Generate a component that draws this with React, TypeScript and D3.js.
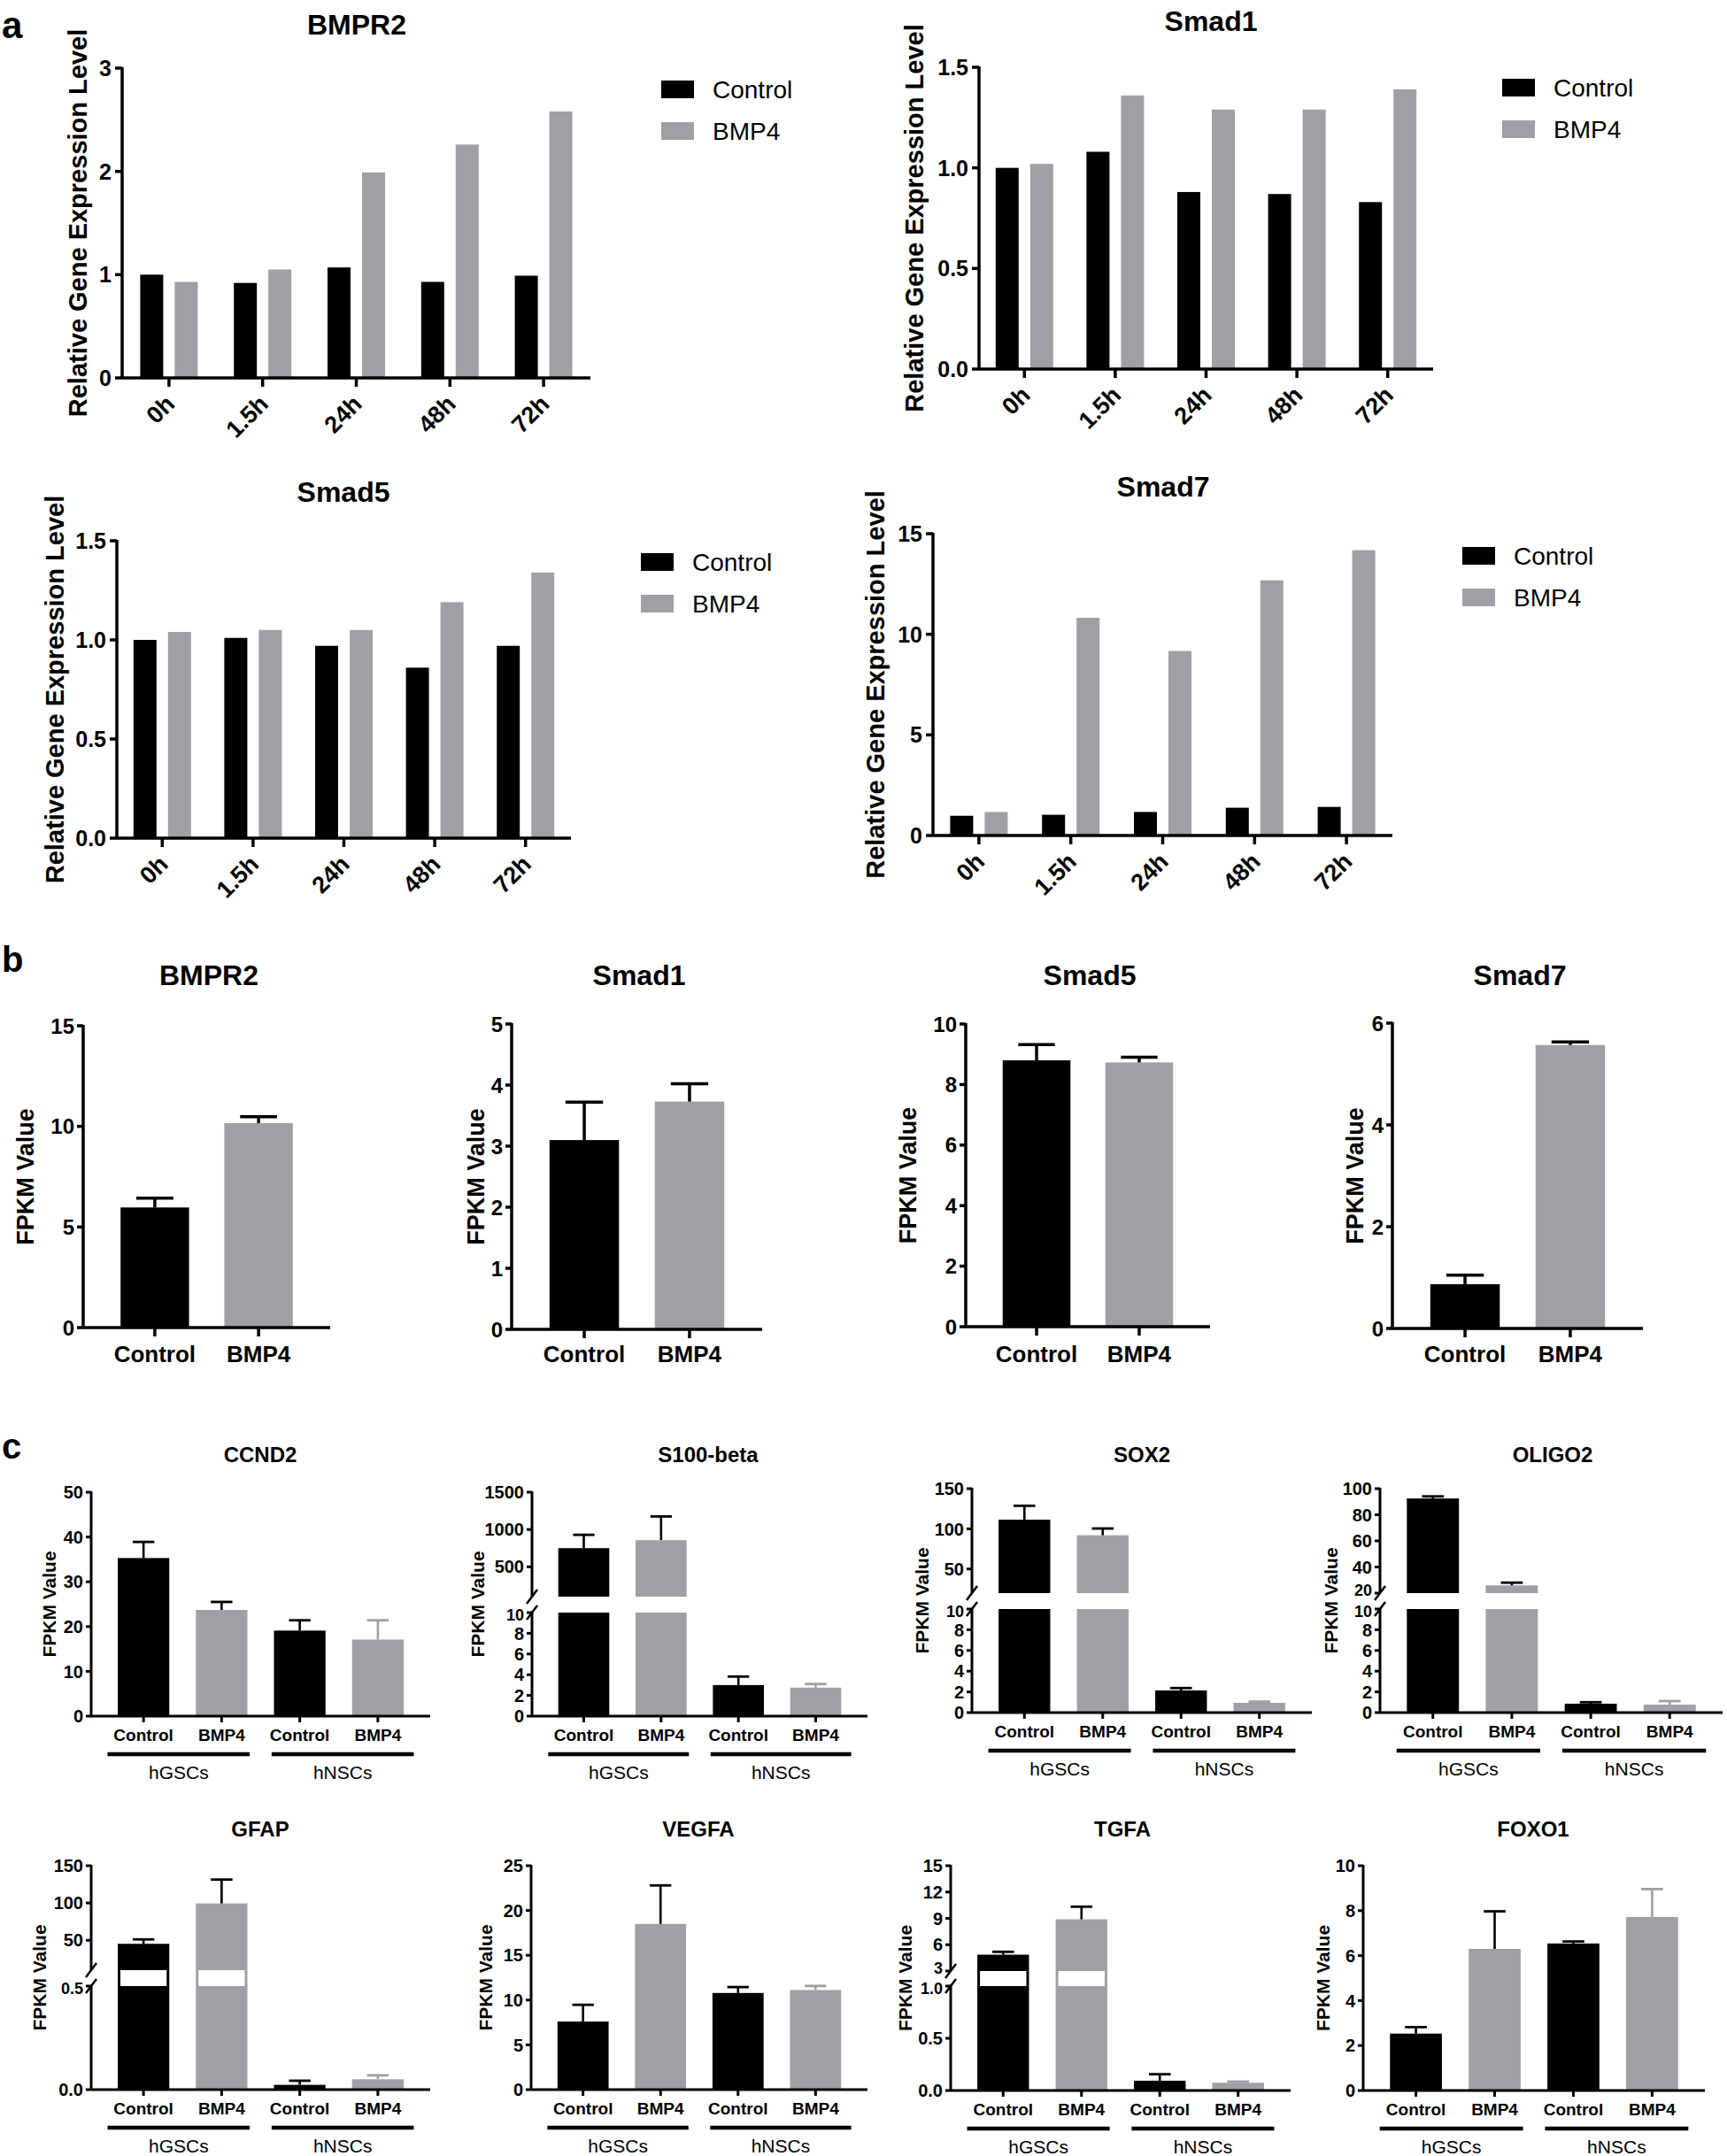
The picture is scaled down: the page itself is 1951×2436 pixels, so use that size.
import React from "react";
import * as d3 from "d3";

const FONT = "'Liberation Sans', Arial, Helvetica, sans-serif";
const BLACK = "#000000";
const GRAY = "#a0a0a4";
const W = 1951;
const H = 2436;

// ---------------- Panel a : qPCR time course ----------------
const timePoints = ["0h", "1.5h", "24h", "48h", "72h"];
const seriesNames = ["Control", "BMP4"];
const aBmpr2Control = [1.0, 0.92, 1.07, 0.93, 0.99];
const aBmpr2Bmp4 = [0.93, 1.05, 1.99, 2.26, 2.58];
const aSmad1Control = [1.0, 1.08, 0.88, 0.87, 0.83];
const aSmad1Bmp4 = [1.02, 1.36, 1.29, 1.29, 1.39];
const aSmad5Control = [1.0, 1.01, 0.97, 0.86, 0.97];
const aSmad5Bmp4 = [1.04, 1.05, 1.05, 1.19, 1.34];
const aSmad7Control = [0.98, 1.03, 1.17, 1.38, 1.42];
const aSmad7Bmp4 = [1.17, 10.82, 9.17, 12.68, 14.18];
const aTicksBmpr2 = [0, 1, 2, 3];
const aTicksSmad = [0, 0.5, 1.0, 1.5];
const aTicksSmad7 = [0, 5, 10, 15];

// ---------------- Panel b : FPKM, two conditions ----------------
const treatments = ["Control", "BMP4"];
const bBmpr2Mean = [5.97, 10.16];
const bBmpr2Err = [0.46, 0.32];
const bSmad1Mean = [3.1, 3.73];
const bSmad1Err = [0.62, 0.29];
const bSmad5Mean = [8.8, 8.73];
const bSmad5Err = [0.52, 0.17];
const bSmad7Mean = [0.87, 5.57];
const bSmad7Err = [0.18, 0.06];
const bTicksBmpr2 = [0, 5, 10, 15];
const bTicksSmad1 = [0, 1, 2, 3, 4, 5];
const bTicksSmad5 = [0, 2, 4, 6, 8, 10];
const bTicksSmad7 = [0, 2, 4, 6];

// ---------------- Panel c : FPKM, hGSCs vs hNSCs ----------------
const cConditions = ["Control", "BMP4", "Control", "BMP4"];
const cCellTypes = ["hGSCs", "hNSCs"];
const ccnd2Mean = [35.3, 23.7, 19.1, 17.1];
const ccnd2Err = [3.6, 1.8, 2.3, 4.3];
const s100Mean = [750, 857, 3.0, 2.75];
const s100Err = [179, 318, 0.82, 0.35];
const sox2Mean = [111.4, 92.0, 2.14, 0.94];
const sox2Err = [17.3, 8.4, 0.23, 0.12];
const oligo2Mean = [92.5, 25.9, 0.86, 0.77];
const oligo2Err = [1.6, 2.1, 0.14, 0.34];
const gfapMean = [45.3, 99.4, 0.023, 0.05];
const gfapErr = [5.9, 32, 0.02, 0.019];
const vegfaMean = [7.6, 18.5, 10.79, 11.12];
const vegfaErr = [1.87, 4.3, 0.66, 0.46];
const tgfaMean = [4.86, 8.89, 0.094, 0.074];
const tgfaErr = [0.33, 1.44, 0.062, 0.011];
const foxo1Mean = [2.53, 6.3, 6.54, 7.72];
const foxo1Err = [0.29, 1.67, 0.09, 1.24];

const ccnd2Ticks = [0, 10, 20, 30, 40, 50];
const s100UpperTicks = [500, 1000, 1500];
const lowerTicks10 = [0, 2, 4, 6, 8, 10];
const sox2UpperTicks = [50, 100, 150];
const oligo2UpperTicks = [20, 40, 60, 80, 100];
const gfapUpperTicks = [50, 100, 150];
const gfapLowerTicks = [0, 0.5];
const vegfaTicks = [0, 5, 10, 15, 20, 25];
const tgfaUpperTicks = [3, 6, 9, 12, 15];
const tgfaLowerTicks = [0, 0.5, 1.0];
const foxo1Ticks = [0, 2, 4, 6, 8, 10];

const fInt = d3.format("d");
const f1 = d3.format(".1f");

// ---------------- layouts ----------------
const panelA = [
  { title: "BMPR2", control: aBmpr2Control, bmp4: aBmpr2Bmp4, yMax: 3, ticks: aTicksBmpr2, fmt: fInt,
    x0: 138, x1: 667, yTop: 77, yBase: 427, titleX: 403, titleY: 39, legX: 747, legY: 91, labX: 88 },
  { title: "Smad1", control: aSmad1Control, bmp4: aSmad1Bmp4, yMax: 1.5, ticks: aTicksSmad, fmt: f1,
    x0: 1106, x1: 1619, yTop: 76, yBase: 417, titleX: 1368, titleY: 35, legX: 1697, legY: 89, labX: 1033 },
  { title: "Smad5", control: aSmad5Control, bmp4: aSmad5Bmp4, yMax: 1.5, ticks: aTicksSmad, fmt: f1,
    x0: 132, x1: 645, yTop: 611, yBase: 947, titleX: 388, titleY: 567, legX: 724, legY: 625, labX: 62 },
  { title: "Smad7", control: aSmad7Control, bmp4: aSmad7Bmp4, yMax: 15, ticks: aTicksSmad7, fmt: fInt,
    x0: 1054, x1: 1573, yTop: 603, yBase: 944, titleX: 1314, titleY: 561, legX: 1652, legY: 618, labX: 989 },
];

const panelB = [
  { title: "BMPR2", mean: bBmpr2Mean, err: bBmpr2Err, yMax: 15, ticks: bTicksBmpr2, x0: 94, x1: 373, yTop: 1159, yBase: 1500, titleX: 236, labX: 28 },
  { title: "Smad1", mean: bSmad1Mean, err: bSmad1Err, yMax: 5, ticks: bTicksSmad1, x0: 578, x1: 861, yTop: 1157, yBase: 1502, titleX: 722, labX: 537 },
  { title: "Smad5", mean: bSmad5Mean, err: bSmad5Err, yMax: 10, ticks: bTicksSmad5, x0: 1091, x1: 1367, yTop: 1157, yBase: 1499, titleX: 1231, labX: 1025 },
  { title: "Smad7", mean: bSmad7Mean, err: bSmad7Err, yMax: 6, ticks: bTicksSmad7, x0: 1573, x1: 1856, yTop: 1156, yBase: 1501, titleX: 1717, labX: 1530 },
];

const panelC = [
  { title: "CCND2", mean: ccnd2Mean, err: ccnd2Err, yMax: 50, ticks: ccnd2Ticks, fmt: fInt,
    x0: 103, x1: 486, yTop: 1686, yBase: 1939, titleX: 294, titleY: 1652, labX: 55 },
  { title: "S100-beta", mean: s100Mean, err: s100Err, yMax: 1500, fmt: fInt,
    brk: { upperMin: 100, lowerMax: 10, upperBottomY: 1804, lowerTopY: 1822, upperTicks: s100UpperTicks, lowerTicks: lowerTicks10, lowerFmt: fInt, gap: "full" },
    x0: 601, x1: 980, yTop: 1686, yBase: 1939, titleX: 800, titleY: 1652, labX: 539 },
  { title: "SOX2", mean: sox2Mean, err: sox2Err, yMax: 150, fmt: fInt,
    brk: { upperMin: 20, lowerMax: 10, upperBottomY: 1800, lowerTopY: 1818, upperTicks: sox2UpperTicks, lowerTicks: lowerTicks10, lowerFmt: fInt, gap: "full" },
    x0: 1098, x1: 1482, yTop: 1682, yBase: 1935, titleX: 1290, titleY: 1652, labX: 1041 },
  { title: "OLIGO2", mean: oligo2Mean, err: oligo2Err, yMax: 100, fmt: fInt,
    brk: { upperMin: 20, lowerMax: 10, upperBottomY: 1800, lowerTopY: 1818, upperTicks: oligo2UpperTicks, lowerTicks: lowerTicks10, lowerFmt: fInt, gap: "full" },
    x0: 1559, x1: 1946, yTop: 1682, yBase: 1935, titleX: 1754, titleY: 1652, labX: 1503 },
  { title: "GFAP", mean: gfapMean, err: gfapErr, yMax: 150, fmt: fInt,
    brk: { upperMin: 10, lowerMax: 0.5, upperBottomY: 2226, lowerTopY: 2244, upperTicks: gfapUpperTicks, lowerTicks: gfapLowerTicks, lowerFmt: f1, gap: "inset" },
    x0: 103, x1: 486, yTop: 2108, yBase: 2361, titleX: 294, titleY: 2075, labX: 44 },
  { title: "VEGFA", mean: vegfaMean, err: vegfaErr, yMax: 25, ticks: vegfaTicks, fmt: fInt,
    x0: 600, x1: 980, yTop: 2108, yBase: 2361, titleX: 789, titleY: 2075, labX: 548 },
  { title: "TGFA", mean: tgfaMean, err: tgfaErr, yMax: 15, fmt: fInt,
    brk: { upperMin: 3, lowerMax: 1, upperBottomY: 2227, lowerTopY: 2244, upperTicks: tgfaUpperTicks, lowerTicks: tgfaLowerTicks, lowerFmt: f1, gap: "inset" },
    x0: 1074, x1: 1458, yTop: 2108, yBase: 2362, titleX: 1268, titleY: 2075, labX: 1022 },
  { title: "FOXO1", mean: foxo1Mean, err: foxo1Err, yMax: 10, ticks: foxo1Ticks, fmt: fInt,
    x0: 1540, x1: 1926, yTop: 2108, yBase: 2362, titleX: 1732, titleY: 2075, labX: 1494 },
];

const seriesColors = [BLACK, GRAY];
const cBarColors = [BLACK, GRAY, BLACK, GRAY];
const cErrColors = [BLACK, BLACK, BLACK, GRAY];

const T = (props: any) => <text fontFamily={FONT} fill={BLACK} {...props} />;

function TimeCourseChart({ c }: any) {
  const x = d3.scaleBand().domain(timePoints).range([c.x0, c.x1]);
  const sub = d3.scaleBand().domain(seriesNames).range([-32.5, 32.5]).paddingInner(1 / 3);
  const y = d3.scaleLinear().domain([0, c.yMax]).range([c.yBase, c.yTop]);
  const vals = [c.control, c.bmp4];
  const sw = 3.5;
  return (
    <g>
      <T x={c.titleX} y={c.titleY} textAnchor="middle" fontSize={32} fontWeight="bold">{c.title}</T>
      {timePoints.map((t, i) =>
        seriesNames.map((s, j) => {
          const v = vals[j][i];
          return (
            <rect key={t + s} x={(x(t) as number) + x.bandwidth() / 2 + (sub(s) as number)} y={y(v)}
              width={sub.bandwidth()} height={y(0) - y(v)} fill={seriesColors[j]} />
          );
        })
      )}
      <line x1={c.x0} x2={c.x0} y1={c.yTop - 1} y2={c.yBase} stroke={BLACK} strokeWidth={sw} />
      <line x1={c.x0} x2={c.x1} y1={c.yBase} y2={c.yBase} stroke={BLACK} strokeWidth={sw} />
      {c.ticks.map((t: number) => (
        <g key={t}>
          <line x1={c.x0 - 8} x2={c.x0} y1={y(t)} y2={y(t)} stroke={BLACK} strokeWidth={sw} />
          <T x={c.x0 - 12} y={y(t)} dy="0.36em" textAnchor="end" fontSize={25} fontWeight="bold">{c.fmt(t)}</T>
        </g>
      ))}
      {timePoints.map((t) => {
        const cx = (x(t) as number) + x.bandwidth() / 2;
        return (
          <g key={t}>
            <line x1={cx} x2={cx} y1={c.yBase} y2={c.yBase + 10} stroke={BLACK} strokeWidth={sw} />
            <T transform={`translate(${cx + 8},${c.yBase + 31}) rotate(-45)`} textAnchor="end" fontSize={27} fontWeight="bold">{t}</T>
          </g>
        );
      })}
      <T transform={`translate(${c.labX},${(c.yTop + c.yBase) / 2}) rotate(-90)`} dy="0.36em" textAnchor="middle" fontSize={29} fontWeight="bold">
        Relative Gene Expression Level
      </T>
      {seriesNames.map((s, j) => (
        <g key={s}>
          <rect x={c.legX} y={c.legY + j * 47} width={37} height={20} fill={seriesColors[j]} />
          <T x={c.legX + 58} y={c.legY + j * 47 + 20} fontSize={28}>{s}</T>
        </g>
      ))}
    </g>
  );
}

function PairChart({ c }: any) {
  const x = d3.scaleBand().domain(treatments).range([c.x0, c.x1]).paddingInner(0.34).paddingOuter(0.36);
  const y = d3.scaleLinear().domain([0, c.yMax]).range([c.yBase, c.yTop]);
  const sw = 3.5;
  const bw = x.bandwidth();
  return (
    <g>
      <T x={c.titleX} y={1113} textAnchor="middle" fontSize={32} fontWeight="bold">{c.title}</T>
      {treatments.map((t, i) => {
        const x0 = x(t) as number;
        const cx = x0 + bw / 2;
        const m = c.mean[i];
        const e = c.err[i];
        return (
          <g key={t}>
            <rect x={x0} y={y(m)} width={bw} height={y(0) - y(m)} fill={seriesColors[i]} />
            <line x1={cx} x2={cx} y1={y(m)} y2={y(m + e)} stroke={BLACK} strokeWidth={3.5} />
            <line x1={cx - bw * 0.27} x2={cx + bw * 0.27} y1={y(m + e)} y2={y(m + e)} stroke={BLACK} strokeWidth={3.5} />
            <line x1={cx} x2={cx} y1={c.yBase} y2={c.yBase + 10} stroke={BLACK} strokeWidth={sw} />
            <T x={cx} y={1539} textAnchor="middle" fontSize={26} fontWeight="bold">{t}</T>
          </g>
        );
      })}
      <line x1={c.x0} x2={c.x0} y1={c.yTop - 1} y2={c.yBase} stroke={BLACK} strokeWidth={sw} />
      <line x1={c.x0} x2={c.x1} y1={c.yBase} y2={c.yBase} stroke={BLACK} strokeWidth={sw} />
      {c.ticks.map((t: number) => (
        <g key={t}>
          <line x1={c.x0 - 7} x2={c.x0} y1={y(t)} y2={y(t)} stroke={BLACK} strokeWidth={sw} />
          <T x={c.x0 - 10} y={y(t)} dy="0.36em" textAnchor="end" fontSize={24} fontWeight="bold">{fInt(t)}</T>
        </g>
      ))}
      <T transform={`translate(${c.labX},${(c.yTop + c.yBase) / 2}) rotate(-90)`} dy="0.36em" textAnchor="middle" fontSize={27} fontWeight="bold">
        FPKM Value
      </T>
    </g>
  );
}

function GroupChart({ c }: any) {
  const idx = d3.range(4).map(String);
  const x = d3.scaleBand().domain(idx).range([c.x0, c.x1]).paddingInner(0.34).paddingOuter(0.34);
  const bw = x.bandwidth();
  const step = x.step();
  const sw = 3;
  const b = c.brk;
  let lower: any, upper: any;
  if (b) {
    lower = d3.scaleLinear().domain([0, b.lowerMax]).range([c.yBase, b.lowerTopY]);
    upper = d3.scaleLinear().domain([b.upperMin, c.yMax]).range([b.upperBottomY, c.yTop]);
  } else {
    lower = d3.scaleLinear().domain([0, c.yMax]).range([c.yBase, c.yTop]);
  }
  const yv = (v: number) => (!b || v <= b.lowerMax ? lower(v) : upper(Math.max(v, b.upperMin)));
  const mid = (c.yTop + c.yBase) / 2;
  const tfs = 20;
  const slash = (yy: number, k: string) => (
    <line key={k} x1={c.x0 - 6} y1={yy + 8} x2={c.x0 + 6} y2={yy - 8} stroke={BLACK} strokeWidth={2.5} />
  );
  return (
    <g>
      <T x={c.titleX} y={c.titleY} textAnchor="middle" fontSize={24} fontWeight="bold">{c.title}</T>
      {idx.map((k, i) => {
        const x0 = x(k) as number;
        const m = c.mean[i];
        const col = cBarColors[i];
        if (b && m > b.lowerMax) {
          if (b.gap === "full") {
            return (
              <g key={k}>
                <rect x={x0} y={b.lowerTopY} width={bw} height={c.yBase - b.lowerTopY} fill={col} />
                <rect x={x0} y={yv(m)} width={bw} height={b.upperBottomY - yv(m)} fill={col} />
              </g>
            );
          }
          return (
            <g key={k}>
              <rect x={x0} y={yv(m)} width={bw} height={c.yBase - yv(m)} fill={col} />
              <rect x={x0 + 3} y={b.upperBottomY} width={bw - 6} height={b.lowerTopY - b.upperBottomY} fill="#ffffff" />
            </g>
          );
        }
        return <rect key={k} x={x0} y={yv(m)} width={bw} height={c.yBase - yv(m)} fill={col} />;
      })}
      {idx.map((k, i) => {
        const cx = (x(k) as number) + bw / 2;
        const m = c.mean[i];
        const e = c.err[i];
        const top = yv(m + e);
        return (
          <g key={"e" + k}>
            <line x1={cx} x2={cx} y1={yv(m)} y2={top} stroke={cErrColors[i]} strokeWidth={2.6} />
            <line x1={cx - bw * 0.21} x2={cx + bw * 0.21} y1={top} y2={top} stroke={cErrColors[i]} strokeWidth={2.8} />
          </g>
        );
      })}
      {b ? (
        <g>
          <line x1={c.x0} x2={c.x0} y1={c.yTop - 1} y2={b.upperBottomY} stroke={BLACK} strokeWidth={sw} />
          <line x1={c.x0} x2={c.x0} y1={b.lowerTopY} y2={c.yBase} stroke={BLACK} strokeWidth={sw} />
          {slash(b.upperBottomY, "s1")}
          {slash(b.lowerTopY, "s2")}
          {b.upperTicks.map((t: number) => (
            <g key={"u" + t}>
              <line x1={c.x0 - 6} x2={c.x0} y1={upper(t)} y2={upper(t)} stroke={BLACK} strokeWidth={sw} />
              <T x={c.x0 - 9} y={upper(t) - (t === b.upperMin ? 3 : 0)} dy="0.36em" textAnchor="end" fontSize={t === b.upperMin ? 18 : tfs} fontWeight="bold">{c.fmt(t)}</T>
            </g>
          ))}
          {b.lowerTicks.map((t: number) => (
            <g key={"l" + t}>
              <line x1={c.x0 - 6} x2={c.x0} y1={lower(t)} y2={lower(t)} stroke={BLACK} strokeWidth={sw} />
              <T x={c.x0 - 9} y={lower(t) + (t === b.lowerMax ? 3 : 0)} dy="0.36em" textAnchor="end" fontSize={t === b.lowerMax ? 18 : tfs} fontWeight="bold">{b.lowerFmt(t)}</T>
            </g>
          ))}
        </g>
      ) : (
        <g>
          <line x1={c.x0} x2={c.x0} y1={c.yTop - 1} y2={c.yBase} stroke={BLACK} strokeWidth={sw} />
          {c.ticks.map((t: number) => (
            <g key={"t" + t}>
              <line x1={c.x0 - 6} x2={c.x0} y1={lower(t)} y2={lower(t)} stroke={BLACK} strokeWidth={sw} />
              <T x={c.x0 - 9} y={lower(t)} dy="0.36em" textAnchor="end" fontSize={tfs} fontWeight="bold">{c.fmt(t)}</T>
            </g>
          ))}
        </g>
      )}
      <line x1={c.x0} x2={c.x1} y1={c.yBase} y2={c.yBase} stroke={BLACK} strokeWidth={sw} />
      {idx.map((k, i) => {
        const cx = (x(k) as number) + bw / 2;
        return (
          <g key={"x" + k}>
            <line x1={cx} x2={cx} y1={c.yBase} y2={c.yBase + 7} stroke={BLACK} strokeWidth={sw} />
            <T x={cx} y={c.yBase + 28} textAnchor="middle" fontSize={19} fontWeight="bold">{cConditions[i]}</T>
          </g>
        );
      })}
      {cCellTypes.map((g, gi) => {
        const c0 = (x(idx[gi * 2]) as number) + bw / 2;
        const c1 = (x(idx[gi * 2 + 1]) as number) + bw / 2;
        const shift = (gi === 0 ? -1 : 1) * 0.05 * step;
        const gm = (c0 + c1) / 2 + shift;
        return (
          <g key={g}>
            <line x1={c0 - 0.41 * step + shift} x2={c1 + 0.41 * step + shift} y1={c.yBase + 43} y2={c.yBase + 43} stroke={BLACK} strokeWidth={4.5} />
            <T x={gm} y={c.yBase + 71} textAnchor="middle" fontSize={21}>{g}</T>
          </g>
        );
      })}
      <T transform={`translate(${c.labX},${mid}) rotate(-90)`} dy="0.36em" textAnchor="middle" fontSize={21} fontWeight="bold">
        FPKM Value
      </T>
    </g>
  );
}

export default function App() {
  return (
    <svg width={W} height={H} viewBox={`0 0 ${W} ${H}`} style={{ position: "absolute", left: 0, top: 0, background: "#ffffff" }}>
      <rect x={0} y={0} width={W} height={H} fill="#ffffff" />
      <T x={2} y={43} fontSize={42} fontWeight="bold">a</T>
      <T x={2} y={1098} fontSize={40} fontWeight="bold">b</T>
      <T x={2} y={1648} fontSize={40} fontWeight="bold">c</T>
      {panelA.map((c) => <TimeCourseChart key={"a" + c.title} c={c} />)}
      {panelB.map((c) => <PairChart key={"b" + c.title} c={c} />)}
      {panelC.map((c) => <GroupChart key={"c" + c.title} c={c} />)}
    </svg>
  );
}
